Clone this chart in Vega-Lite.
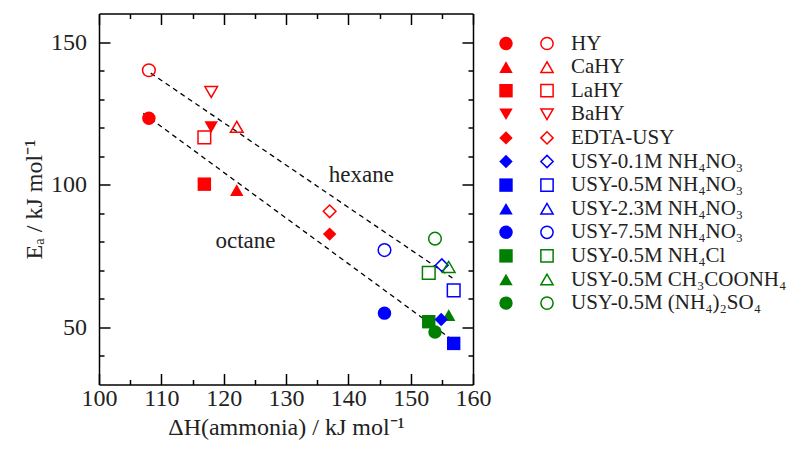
{
  "$schema": "https://vega.github.io/schema/vega-lite/v6.json",
  "padding": {"left": 22, "top": 12.5, "right": 0, "bottom": 0},
  "background": "white",
  "config": {
    "font": "Liberation Serif",
    "view": {"stroke": null},
    "axis": {
      "grid": false,
      "labelFlush": false,
      "domainColor": "black",
      "domainWidth": 1.5,
      "tickColor": "black",
      "tickWidth": 1.5,
      "labelFont": "Liberation Serif",
      "labelFontSize": 24,
      "labelColor": "#222222",
      "titleFont": "Liberation Serif",
      "titleFontSize": 24,
      "titleFontWeight": "normal",
      "titleColor": "#222222"
    }
  },
  "datasets": {
    "samples": [
      {"sample": "HY"},
      {"sample": "CaHY"},
      {"sample": "LaHY"},
      {"sample": "BaHY"},
      {"sample": "EDTA-USY"},
      {"sample": "USY-0.1M NH₄NO₃"},
      {"sample": "USY-0.5M NH₄NO₃"},
      {"sample": "USY-2.3M NH₄NO₃"},
      {"sample": "USY-7.5M NH₄NO₃"},
      {"sample": "USY-0.5M NH₄Cl"},
      {"sample": "USY-0.5M CH₃COONH₄"},
      {"sample": "USY-0.5M (NH₄)₂SO₄"}
    ],
    "points": [
      {"sample": "HY", "alkane": "hexane", "dH": 108, "Ea": 140.1},
      {"sample": "HY", "alkane": "octane", "dH": 108, "Ea": 123.3},
      {"sample": "BaHY", "alkane": "hexane", "dH": 118, "Ea": 132.5},
      {"sample": "BaHY", "alkane": "octane", "dH": 118, "Ea": 120.2},
      {"sample": "LaHY", "alkane": "hexane", "dH": 116.9, "Ea": 116.6},
      {"sample": "LaHY", "alkane": "octane", "dH": 116.9, "Ea": 100.2},
      {"sample": "CaHY", "alkane": "hexane", "dH": 122.1, "Ea": 120.3},
      {"sample": "CaHY", "alkane": "octane", "dH": 122.1, "Ea": 98.1},
      {"sample": "EDTA-USY", "alkane": "hexane", "dH": 137, "Ea": 90.7},
      {"sample": "EDTA-USY", "alkane": "octane", "dH": 137, "Ea": 82.7},
      {"sample": "USY-7.5M NH₄NO₃", "alkane": "hexane", "dH": 145.8, "Ea": 77.1},
      {"sample": "USY-7.5M NH₄NO₃", "alkane": "octane", "dH": 145.8, "Ea": 55.0},
      {"sample": "USY-0.5M (NH₄)₂SO₄", "alkane": "hexane", "dH": 153.9, "Ea": 81.1},
      {"sample": "USY-0.5M NH₄Cl", "alkane": "hexane", "dH": 152.9, "Ea": 69.1},
      {"sample": "USY-0.1M NH₄NO₃", "alkane": "hexane", "dH": 155.0, "Ea": 71.8},
      {"sample": "USY-0.5M CH₃COONH₄", "alkane": "hexane", "dH": 156.1, "Ea": 71.2},
      {"sample": "USY-0.5M NH₄NO₃", "alkane": "hexane", "dH": 156.9, "Ea": 63.0},
      {"sample": "USY-0.5M NH₄NO₃", "alkane": "octane", "dH": 156.9, "Ea": 44.4},
      {"sample": "USY-0.5M CH₃COONH₄", "alkane": "octane", "dH": 156.1, "Ea": 54.3},
      {"sample": "USY-0.5M NH₄Cl", "alkane": "octane", "dH": 152.9, "Ea": 52.0},
      {"sample": "USY-0.1M NH₄NO₃", "alkane": "octane", "dH": 154.9, "Ea": 52.8},
      {"sample": "USY-0.5M (NH₄)₂SO₄", "alkane": "octane", "dH": 153.9, "Ea": 48.4}
    ],
    "lines": [
      {"series": "hexane", "dH": 108.3, "Ea": 139.1},
      {"series": "hexane", "dH": 156.7, "Ea": 67.3},
      {"series": "octane", "dH": 107.1, "Ea": 125.0},
      {"series": "octane", "dH": 156.7, "Ea": 45.6}
    ],
    "labels": [
      {"label": "hexane", "dH": 142.1, "Ea": 103.3},
      {"label": "octane", "dH": 123.5, "Ea": 80.2}
    ]
  },
  "spacing": 0,
  "hconcat": [
    {
      "width": 374,
      "height": 371,
      "resolve": {"axis": {"x": "independent", "y": "independent"}},
      "layer": [
        {
          "data": {"name": "lines"},
          "mark": {"type": "line", "color": "black", "strokeWidth": 1.3, "strokeDash": [5, 4]},
          "encoding": {
            "x": {"field": "dH", "type": "quantitative",
              "scale": {"domain": [100, 160], "nice": false, "zero": false},
              "axis": {"orient": "bottom", "offset": 0, "values": [100, 110, 120, 130, 140, 150, 160], "tickSize": -11, "labelPadding": 13, "titlePadding": 5, "title": "ΔH(ammonia) / kJ mol⁻¹"}},
            "y": {"field": "Ea", "type": "quantitative",
              "scale": {"domain": [30, 160], "nice": false, "zero": false},
              "axis": {"orient": "left", "offset": 0, "values": [50, 100, 150], "tickSize": -11, "labelPadding": 23.5, "titlePadding": 4, "title": "Eₐ / kJ mol⁻¹"}},
            "detail": {"field": "series"}
          }
        },
        {
          "data": {"name": "labels"},
          "mark": {"type": "text", "fontSize": 23, "color": "#222222", "font": "Liberation Serif"},
          "encoding": {
            "x": {"field": "dH", "type": "quantitative",
              "scale": {"domain": [100, 160], "nice": false, "zero": false},
              "axis": {"orient": "bottom", "offset": 0, "values": [105, 115, 125, 135, 145, 155], "tickSize": -5, "labels": false, "domain": false, "title": null}},
            "y": {"field": "Ea", "type": "quantitative",
              "scale": {"domain": [30, 160], "nice": false, "zero": false},
              "axis": {"orient": "left", "offset": 0, "values": [40, 60, 70, 80, 90, 110, 120, 130, 140], "tickSize": -5, "labels": false, "domain": false, "title": null}},
            "text": {"field": "label"}
          }
        },
        {
          "data": {"name": "points"},
          "transform": [{"filter": "datum.alkane === 'octane'"}],
          "mark": {"type": "point", "filled": true, "size": 180, "opacity": 1},
          "encoding": {
            "x": {"field": "dH", "type": "quantitative",
              "scale": {"domain": [100, 160], "nice": false, "zero": false},
              "axis": {"orient": "top", "offset": 0, "values": [100, 110, 120, 130, 140, 150, 160], "tickSize": -11, "labels": false, "title": null}},
            "y": {"field": "Ea", "type": "quantitative",
              "scale": {"domain": [30, 160], "nice": false, "zero": false},
              "axis": {"orient": "right", "offset": 0, "values": [50, 100, 150], "tickSize": -11, "labels": false, "title": null}},
            "color": {"field": "sample", "type": "nominal", "legend": null,
              "scale": {"domain": ["HY", "CaHY", "LaHY", "BaHY", "EDTA-USY", "USY-0.1M NH₄NO₃", "USY-0.5M NH₄NO₃", "USY-2.3M NH₄NO₃", "USY-7.5M NH₄NO₃", "USY-0.5M NH₄Cl", "USY-0.5M CH₃COONH₄", "USY-0.5M (NH₄)₂SO₄"],
                "range": ["#ff0000", "#ff0000", "#ff0000", "#ff0000", "#ff0000", "#0000ff", "#0000ff", "#0000ff", "#0000ff", "#008000", "#008000", "#008000"]}},
            "shape": {"field": "sample", "type": "nominal", "legend": null,
              "scale": {"domain": ["HY", "CaHY", "LaHY", "BaHY", "EDTA-USY", "USY-0.1M NH₄NO₃", "USY-0.5M NH₄NO₃", "USY-2.3M NH₄NO₃", "USY-7.5M NH₄NO₃", "USY-0.5M NH₄Cl", "USY-0.5M CH₃COONH₄", "USY-0.5M (NH₄)₂SO₄"],
                "range": ["circle", "triangle-up", "square", "triangle-down", "diamond", "diamond", "square", "triangle-up", "circle", "square", "triangle-up", "circle"]}}
          }
        },
        {
          "data": {"name": "points"},
          "transform": [{"filter": "datum.alkane === 'hexane'"}],
          "mark": {"type": "point", "filled": false, "size": 160, "strokeWidth": 1.5, "opacity": 1},
          "encoding": {
            "x": {"field": "dH", "type": "quantitative",
              "scale": {"domain": [100, 160], "nice": false, "zero": false},
              "axis": {"orient": "top", "offset": 0, "values": [105, 115, 125, 135, 145, 155], "tickSize": -5, "labels": false, "domain": false, "title": null}},
            "y": {"field": "Ea", "type": "quantitative",
              "scale": {"domain": [30, 160], "nice": false, "zero": false},
              "axis": {"orient": "right", "offset": 0, "values": [40, 60, 70, 80, 90, 110, 120, 130, 140], "tickSize": -5, "labels": false, "domain": false, "title": null}},
            "color": {"field": "sample", "type": "nominal", "legend": null,
              "scale": {"domain": ["HY", "CaHY", "LaHY", "BaHY", "EDTA-USY", "USY-0.1M NH₄NO₃", "USY-0.5M NH₄NO₃", "USY-2.3M NH₄NO₃", "USY-7.5M NH₄NO₃", "USY-0.5M NH₄Cl", "USY-0.5M CH₃COONH₄", "USY-0.5M (NH₄)₂SO₄"],
                "range": ["#ff0000", "#ff0000", "#ff0000", "#ff0000", "#ff0000", "#0000ff", "#0000ff", "#0000ff", "#0000ff", "#008000", "#008000", "#008000"]}},
            "shape": {"field": "sample", "type": "nominal", "legend": null,
              "scale": {"domain": ["HY", "CaHY", "LaHY", "BaHY", "EDTA-USY", "USY-0.1M NH₄NO₃", "USY-0.5M NH₄NO₃", "USY-2.3M NH₄NO₃", "USY-7.5M NH₄NO₃", "USY-0.5M NH₄Cl", "USY-0.5M CH₃COONH₄", "USY-0.5M (NH₄)₂SO₄"],
                "range": ["circle", "triangle-up", "square", "triangle-down", "diamond", "diamond", "square", "triangle-up", "circle", "square", "triangle-up", "circle"]}}
          }
        }
      ]
    },
    {
      "width": 290,
      "height": 320,
      "data": {"name": "samples"},
      "encoding": {
        "y": {"field": "sample", "type": "ordinal", "axis": null,
          "scale": {"type": "point", "padding": 0, "range": [30, 289.6], "domain": ["HY", "CaHY", "LaHY", "BaHY", "EDTA-USY", "USY-0.1M NH₄NO₃", "USY-0.5M NH₄NO₃", "USY-2.3M NH₄NO₃", "USY-7.5M NH₄NO₃", "USY-0.5M NH₄Cl", "USY-0.5M CH₃COONH₄", "USY-0.5M (NH₄)₂SO₄"]}},
        "color": {"field": "sample", "type": "nominal", "legend": null,
          "scale": {"domain": ["HY", "CaHY", "LaHY", "BaHY", "EDTA-USY", "USY-0.1M NH₄NO₃", "USY-0.5M NH₄NO₃", "USY-2.3M NH₄NO₃", "USY-7.5M NH₄NO₃", "USY-0.5M NH₄Cl", "USY-0.5M CH₃COONH₄", "USY-0.5M (NH₄)₂SO₄"],
            "range": ["#ff0000", "#ff0000", "#ff0000", "#ff0000", "#ff0000", "#0000ff", "#0000ff", "#0000ff", "#0000ff", "#008000", "#008000", "#008000"]}},
        "shape": {"field": "sample", "type": "nominal", "legend": null,
          "scale": {"domain": ["HY", "CaHY", "LaHY", "BaHY", "EDTA-USY", "USY-0.1M NH₄NO₃", "USY-0.5M NH₄NO₃", "USY-2.3M NH₄NO₃", "USY-7.5M NH₄NO₃", "USY-0.5M NH₄Cl", "USY-0.5M CH₃COONH₄", "USY-0.5M (NH₄)₂SO₄"],
            "range": ["circle", "triangle-up", "square", "triangle-down", "diamond", "diamond", "square", "triangle-up", "circle", "square", "triangle-up", "circle"]}}
      },
      "layer": [
        {
          "mark": {"type": "point", "filled": true, "size": 180, "opacity": 1},
          "encoding": {
            "x": {"datum": 15, "type": "quantitative", "scale": {"domain": [0, 290], "nice": false, "zero": false}, "axis": null}
          }
        },
        {
          "mark": {"type": "point", "filled": false, "size": 150, "strokeWidth": 1.5, "opacity": 1},
          "encoding": {
            "x": {"datum": 56, "type": "quantitative", "scale": {"domain": [0, 290], "nice": false, "zero": false}, "axis": null}
          }
        },
        {
          "mark": {"type": "text", "align": "left", "baseline": "middle", "fontSize": 21, "color": "#222222", "font": "Liberation Serif"},
          "encoding": {
            "x": {"datum": 80, "type": "quantitative", "scale": {"domain": [0, 290], "nice": false, "zero": false}, "axis": null},
            "text": {"field": "sample"},
            "color": {"value": "#222222"}
          }
        }
      ]
    }
  ]
}
